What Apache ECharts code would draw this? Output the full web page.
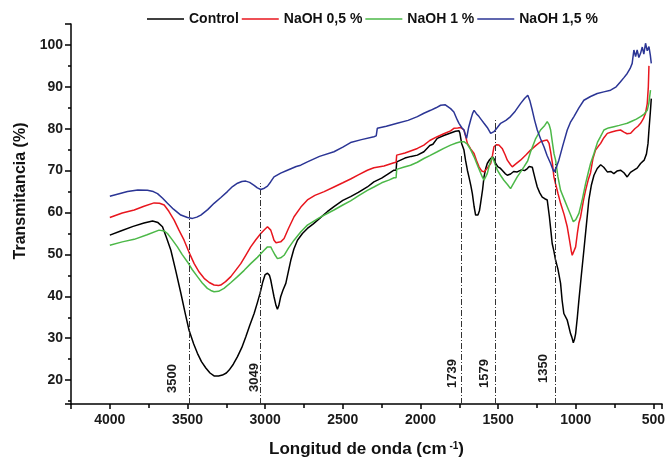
<!DOCTYPE html>
<html><head><meta charset="utf-8">
<script src="https://cdn.jsdelivr.net/npm/echarts@6/dist/echarts.min.js"></script>
<style>html,body{margin:0;padding:0;background:#fff}#c{width:666px;height:461px}</style>
</head><body><div id="c"></div>
<script>
const seriesNames = ['Control', 'NaOH 0,5 %', 'NaOH 1 %', 'NaOH 1,5 %'];
const seriesColors = ['#000000', '#e8161e', '#4cb848', '#2b3595'];

const ctrlX = [4000,3930,3850,3780,3725,3690,3661,3635,3607,3575,3543,3515,3490,3460,3436,3410,3382,3355,3329,3300,3275,3250,3232,3205,3178,3150,3125,3100,3071,3050,3033,3015,3000,2985,2972,2964,2953,2943,2930,2921,2912,2900,2885,2867,2850,2835,2815,2792,2760,2728,2690,2640,2600,2557,2500,2450,2400,2342,2300,2250,2200,2171,2157,2153,2100,2060,2020,1978,1940,1920,1892,1850,1806,1775,1763,1752,1746,1735,1720,1710,1698,1688,1676,1666,1655,1645,1630,1620,1613,1600,1591,1580,1570,1555,1537,1526,1516,1501,1487,1474,1455,1441,1420,1400,1377,1350,1330,1312,1300,1291,1280,1270,1260,1248,1232,1216,1200,1184,1170,1160,1152,1141,1130,1115,1098,1088,1077,1066,1055,1045,1034,1025,1016,1008,1001,990,980,965,948,932,916,900,883,862,840,820,797,775,755,735,712,690,669,648,626,605,583,560,545,535,529,520,514];
const ctrlY = [54.6,55.6,56.7,57.5,58.0,57.6,56.6,54.0,51.0,46.0,40.8,36.0,31.9,28.6,26.4,24.4,22.9,21.7,21.0,21.0,21.2,21.7,22.4,23.8,25.6,27.8,30.3,33.0,35.9,38.5,40.7,43.5,45.2,45.5,45.0,43.9,41.8,39.9,37.8,36.9,37.8,39.9,41.5,43.1,46.0,48.6,51.3,53.4,55.0,56.2,57.3,58.9,60.2,61.4,62.9,63.8,64.8,66.1,67.3,68.2,69.4,70.1,70.1,72.1,73.0,73.4,73.7,74.5,76.0,76.3,77.7,78.4,79.0,79.4,79.7,79.5,78.9,76.5,74.9,72.5,70.1,68.5,66.5,64.5,61.5,59.4,59.4,60.5,62.2,65.5,68.5,70.5,71.7,72.6,73.3,72.8,71.7,70.9,70.6,70.1,69.3,68.9,69.2,69.8,69.7,70.2,70.0,70.5,71.0,71.3,70.8,69.3,67.8,66.1,64.7,63.7,63.3,63.0,59.0,55.5,52.6,50.8,48.6,46.5,43.1,39.0,35.9,35.5,34.3,32.8,31.1,30.2,28.9,29.8,31.1,35.0,39.1,44.8,51.0,57.0,63.0,66.5,68.9,70.5,71.4,70.8,69.7,69.8,69.3,69.9,70.1,69.5,68.5,69.6,70.1,70.6,71.7,72.5,74.0,76.5,79.7,84.0,87.2];

const redX = [4000,3920,3843,3780,3715,3680,3650,3620,3586,3555,3522,3490,3457,3425,3393,3360,3329,3300,3286,3255,3221,3190,3157,3125,3093,3060,3028,3005,2985,2975,2964,2953,2943,2930,2921,2900,2878,2850,2814,2770,2728,2680,2620,2557,2500,2450,2400,2342,2300,2235,2171,2157,2153,2100,2064,2020,1978,1940,1892,1850,1806,1785,1760,1742,1730,1720,1710,1698,1677,1655,1640,1623,1605,1591,1570,1548,1537,1527,1510,1495,1474,1455,1441,1420,1409,1390,1356,1320,1291,1260,1227,1200,1184,1172,1162,1150,1141,1130,1115,1098,1075,1055,1040,1030,1023,1015,1001,990,980,969,950,937,920,905,890,873,855,840,820,797,770,740,712,690,670,647,620,600,583,565,551,540,533,529];
const redY = [58.8,59.9,60.6,61.5,62.3,62.2,61.8,60.3,58.2,55.8,53.4,50.5,47.8,45.8,44.3,43.3,42.7,42.6,42.7,43.5,44.7,46.2,47.8,49.8,51.8,53.5,55.0,55.9,56.6,56.5,55.8,54.6,53.4,52.8,52.6,53.0,53.8,56.2,59.0,61.3,63.0,64.1,65.0,66.1,67.1,68.0,69.0,70.1,70.7,71.1,71.9,72.0,73.7,74.2,74.7,75.3,76.1,77.2,78.1,78.8,79.5,80.1,80.2,80.3,80.0,79.7,78.3,76.5,75.2,74.1,72.5,70.9,69.9,69.7,70.6,71.7,73.5,75.7,76.2,76.1,75.3,73.8,72.5,71.4,70.9,71.5,72.5,73.8,74.9,75.9,76.9,77.2,77.3,76.5,74.5,71.6,68.5,66.8,64.6,62.2,59.5,56.6,53.3,51.0,49.8,50.0,51.8,55.0,57.5,59.0,63.0,65.3,67.8,69.5,72.8,74.9,75.8,76.5,77.8,78.9,79.2,79.5,79.7,79.2,78.8,78.9,80.0,80.6,81.3,82.4,83.7,86.0,90.0,95.0];

const greenX = [4000,3920,3843,3760,3683,3650,3629,3600,3565,3535,3500,3470,3436,3405,3372,3350,3329,3300,3265,3220,3178,3135,3093,3050,3007,2985,2975,2964,2953,2935,2921,2900,2878,2850,2814,2770,2728,2650,2557,2500,2450,2400,2342,2300,2250,2200,2171,2157,2153,2110,2064,2020,1978,1940,1892,1850,1806,1770,1742,1720,1698,1677,1655,1630,1602,1591,1570,1555,1537,1520,1505,1485,1463,1440,1420,1400,1377,1355,1334,1310,1291,1260,1227,1200,1184,1172,1162,1150,1140,1130,1115,1098,1075,1055,1035,1016,1000,980,960,937,920,905,883,860,840,819,790,755,720,690,669,640,610,583,560,540,530,519];
const greenY = [52.2,53.0,53.6,54.7,55.8,55.6,55.0,53.6,51.8,50.0,48.2,46.4,44.7,43.2,41.9,41.4,41.1,41.2,41.9,43.3,44.7,46.2,47.8,49.3,51.0,51.8,52.2,51.8,51.0,49.8,49.0,49.2,49.8,51.5,53.4,55.4,57.0,58.8,60.6,61.8,62.8,64.0,65.3,66.1,67.1,67.8,68.3,68.3,70.3,70.8,71.3,72.0,72.9,73.6,74.5,75.3,76.1,76.6,76.9,76.9,76.3,75.0,73.3,71.0,68.5,67.7,69.3,71.5,73.3,71.6,70.1,68.9,67.7,66.7,65.7,67.0,68.5,69.7,70.9,72.3,74.5,77.5,79.7,80.8,81.7,81.0,79.7,76.5,74.0,72.5,68.5,65.3,63.2,61.4,59.6,57.8,58.3,59.8,62.8,66.9,69.5,71.7,74.1,76.8,78.2,79.7,80.2,80.5,80.8,81.1,81.3,81.8,82.3,82.9,83.5,84.4,86.0,89.2];

const blueX = [4000,3940,3886,3820,3758,3720,3693,3660,3629,3590,3543,3500,3468,3440,3414,3370,3329,3285,3243,3210,3178,3150,3125,3100,3071,3050,3028,3005,2985,2965,2943,2900,2857,2800,2771,2728,2650,2557,2500,2450,2380,2300,2285,2278,2220,2150,2080,2020,1978,1935,1900,1870,1840,1828,1806,1785,1763,1752,1735,1720,1712,1703,1690,1677,1665,1655,1640,1623,1605,1591,1570,1548,1538,1527,1505,1484,1450,1420,1390,1356,1330,1309,1295,1280,1265,1248,1227,1205,1185,1162,1150,1141,1125,1109,1085,1055,1035,1012,980,948,905,862,820,776,740,712,690,669,650,637,626,615,605,594,583,572,562,551,540,529,520,514];
const blueY = [63.9,64.5,65.0,65.4,65.3,65.0,64.5,63.4,62.2,60.8,59.4,58.8,58.6,58.9,59.4,60.7,62.2,63.6,65.0,66.2,67.0,67.4,67.5,67.2,66.5,65.9,65.5,65.8,66.3,67.3,68.5,69.4,70.1,71.0,71.3,72.1,73.4,74.5,75.6,76.7,77.4,78.1,78.3,80.1,80.6,81.3,82.0,82.9,83.7,84.4,85.0,85.6,85.7,85.6,84.8,84.0,82.1,81.3,80.3,79.7,78.7,77.7,80.3,82.1,83.6,84.4,83.6,82.9,82.0,81.3,80.3,78.9,79.0,79.3,80.3,81.3,82.0,82.9,84.2,86.0,87.2,88.0,86.6,84.4,82.0,79.7,77.6,75.7,73.6,71.7,70.5,69.7,70.8,72.5,75.8,79.7,81.5,82.9,85.0,86.8,87.7,88.4,88.8,89.2,90.0,91.2,92.2,93.2,94.4,95.6,98.8,97.2,98.8,97.0,98.0,99.5,97.8,100.4,98.6,99.6,97.5,95.6];

// reference lines (drawn position) and their printed labels
const markX = [3490, 3030, 1735, 1520, 1135];
const markLabels = ['3500', '3049', '1739', '1579', '1350'];
const markTop = [60.6, 67.0, 74.0, 82.3, 72.0];
const markAlong = [11, 12, 16, 16, 21];
const markSide = [10, 0, 3, 4, 5];

const xMin = 445, xMax = 4250, yMin = 14.3, yMax = 105;

const zip = (xs, ys) => xs.map((x, i) => [x, ys[i]]);
const allData = [zip(ctrlX, ctrlY), zip(redX, redY), zip(greenX, greenY), zip(blueX, blueY)];

const FONT = 'Liberation Sans, Arial, sans-serif';
const chart = echarts.init(document.getElementById('c'), null, {renderer: 'canvas'});

const markData = markX.map((x, i) => [
  {xAxis: x, yAxis: yMin, label: {formatter: markLabels[i], distance: [markAlong[i], markSide[i]]}},
  {xAxis: x, yAxis: markTop[i]}
]);

const series = seriesNames.map((name, i) => {
  const s = {
    name, type: 'line', data: allData[i], symbol: 'none', showSymbol: false,
    lineStyle: {color: seriesColors[i], width: 1.5}, itemStyle: {color: seriesColors[i]},
    z: 2 + i
  };
  if (i === 0) {
    s.markLine = {
      silent: true, symbol: ['none', 'none'], animation: false,
      lineStyle: {color: '#333', width: 1, type: [6, 2, 1, 2]},
      label: {show: true, position: 'insideStartTop', fontFamily: FONT, fontWeight: 'bold', fontSize: 13, color: '#1a1a1a'},
      data: markData
    };
  }
  return s;
});

chart.setOption({
  animation: false,
  backgroundColor: '#fff',
  textStyle: {fontFamily: FONT},
  grid: {left: 71, right: 4, top: 24, bottom: 57, containLabel: false, outerBoundsMode: 'none'},
  legend: {
    data: seriesNames, left: 147, top: 12, padding: 0, icon: 'rect', itemWidth: 37, itemHeight: 1.5, itemGap: 3,
    textStyle: {fontFamily: FONT, fontWeight: 'bold', fontSize: 14, color: '#111'}
  },
  xAxis: {
    type: 'value', inverse: true, min: xMin, max: xMax, minInterval: 500, maxInterval: 500, splitNumber: 8,
    name: 'Longitud de onda (cm{sup| -1})', nameLocation: 'middle', nameGap: 37,
    nameTextStyle: {fontFamily: FONT, fontWeight: 'bold', fontSize: 17, color: '#111',
      rich: {sup: {fontFamily: FONT, fontWeight: 'bold', fontSize: 10, color: '#111', verticalAlign: 'top'}}},
    axisLine: {show: true, onZero: false, lineStyle: {color: '#000', width: 1.5}},
    axisTick: {show: true, inside: false, length: 5, lineStyle: {color: '#000', width: 1.5}},
    minorTick: {show: true, splitNumber: 2, length: 4, lineStyle: {color: '#000', width: 1.5}},
    axisLabel: {fontFamily: FONT, fontWeight: 'bold', fontSize: 14, color: '#1a1a1a', margin: 9,
      showMinLabel: false, showMaxLabel: false, formatter: v => String(v)},
    splitLine: {show: false}
  },
  yAxis: {
    type: 'value', min: yMin, max: yMax, minInterval: 10, maxInterval: 10, splitNumber: 9,
    name: 'Transmitancia (%)', nameLocation: 'middle', nameGap: 34, nameRotate: 90,
    nameTextStyle: {fontFamily: FONT, fontWeight: 'bold', fontSize: 16, color: '#111', padding: [0, 0, 0, 46]},
    axisLine: {show: true, onZero: false, lineStyle: {color: '#000', width: 1.5}},
    axisTick: {show: true, inside: false, length: 6, lineStyle: {color: '#000', width: 1.5}},
    minorTick: {show: true, splitNumber: 2, length: 3, lineStyle: {color: '#000', width: 1.5}},
    axisLabel: {fontFamily: FONT, fontWeight: 'bold', fontSize: 14, color: '#1a1a1a', margin: 8,
      showMinLabel: false, showMaxLabel: false, formatter: v => String(v)},
    splitLine: {show: false}
  },
  series
});
</script></body></html>
